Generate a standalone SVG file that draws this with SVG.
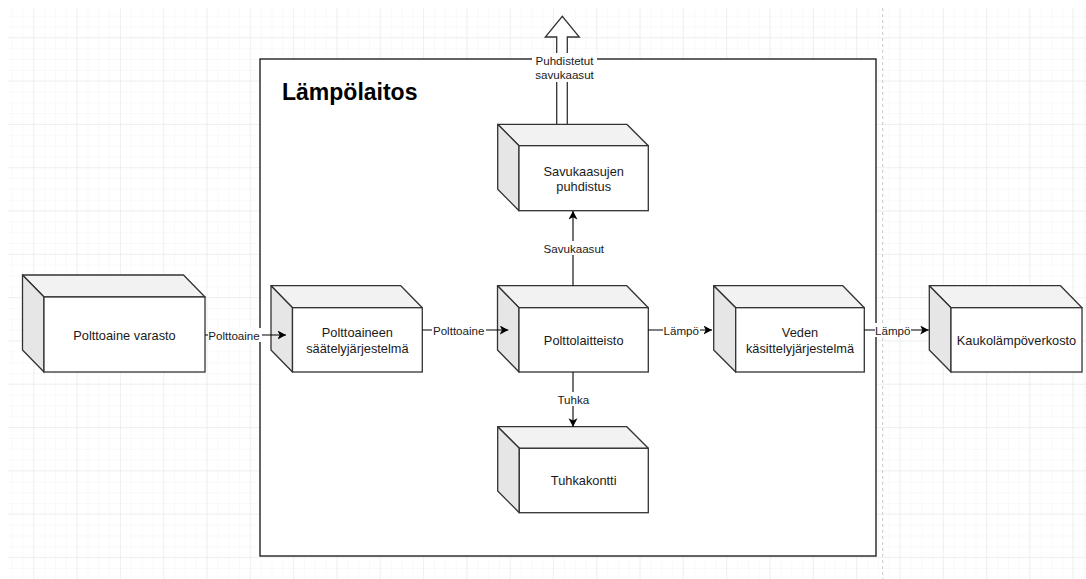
<svg xmlns="http://www.w3.org/2000/svg" width="1086" height="579" viewBox="0 0 1086 579">
<style>
.cube-front{fill:#ffffff;stroke:#333;stroke-width:1.3}
.cube-top{fill:#f2f2f2;stroke:#333;stroke-width:1.3;stroke-linejoin:round}
.cube-side{fill:#e6e6e6;stroke:#333;stroke-width:1.3;stroke-linejoin:round}
.nt{font-family:"Liberation Sans",Arial,sans-serif;font-size:12.8px;fill:#1a1a1a;text-anchor:middle;dominant-baseline:central}
.el{font-family:"Liberation Sans",Arial,sans-serif;font-size:11.6px;fill:#1a1a1a;text-anchor:middle;dominant-baseline:central}
.edge{stroke:#000;stroke-width:1.1;fill:none}
.lbg{fill:#fff}
</style>
<defs>
<pattern id="minor" x="0.8" y="4.8" width="10.83" height="10.83" patternUnits="userSpaceOnUse">
<path d="M0,0 L10.83,0 M0,0 L0,10.83" stroke="#f3f3f3" stroke-width="1" fill="none"/>
</pattern>
<pattern id="major" x="-10" y="-6" width="43.3" height="43.3" patternUnits="userSpaceOnUse">
<path d="M0,0 L43.3,0 M0,0 L0,43.3" stroke="#e6e6e6" stroke-width="1" fill="none"/>
</pattern>
<marker id="arr" markerUnits="userSpaceOnUse" markerWidth="10" markerHeight="10" refX="8.5" refY="4.5" orient="auto">
<path d="M0,0 L8.5,4.5 L0,9 L2.2,4.5 z" fill="#000"/>
</marker>
</defs>
<rect width="1086" height="579" fill="#fff"/>
<rect x="8" y="8" width="1078" height="571" fill="url(#minor)"/>
<rect x="8" y="8" width="1078" height="571" fill="url(#major)"/>
<line x1="882.7" y1="8" x2="882.7" y2="579" stroke="#c8c8c8" stroke-width="1" stroke-dasharray="3,3"/>

<g id="container">
<rect x="260" y="59" width="616" height="497" fill="#fff" stroke="#222" stroke-width="1.4"/>
<text x="282" y="99.5" font-family="'Liberation Sans',Arial,sans-serif" font-size="23px" font-weight="bold" fill="#000">Lämpölaitos</text>
</g>

<g id="node-varasto">
<path class="cube-top" d="M22.5,275 L183.5,275 L205,297 L44,297 Z"/>
<path class="cube-side" d="M22.5,275 L44,297 L44,372 L22.5,350 Z"/>
<rect class="cube-front" x="44" y="297" width="161" height="75"/>
<text class="nt" x="124.5" y="335">Polttoaine varasto</text>
</g>

<g id="node-saately">
<path class="cube-top" d="M271,285.7 L400.8,285.7 L422.3,307.7 L292.5,307.7 Z"/>
<path class="cube-side" d="M271,285.7 L292.5,307.7 L292.5,372 L271,350 Z"/>
<rect class="cube-front" x="292.5" y="307.7" width="129.8" height="64.3"/>
<text class="nt" x="357.4" y="332.7">Polttoaineen</text>
<text class="nt" x="357.4" y="348.7">säätelyjärjestelmä</text>
</g>

<g id="node-polttolaitteisto">
<path class="cube-top" d="M497.5,285.7 L626.8,285.7 L648.3,307.7 L519,307.7 Z"/>
<path class="cube-side" d="M497.5,285.7 L519,307.7 L519,372 L497.5,350 Z"/>
<rect class="cube-front" x="519" y="307.7" width="129.3" height="64.3"/>
<text class="nt" x="583.7" y="340.5">Polttolaitteisto</text>
</g>

<g id="node-veden">
<path class="cube-top" d="M713.7,285.7 L842.8,285.7 L864.3,307.7 L735.7,307.7 Z"/>
<path class="cube-side" d="M713.7,285.7 L735.7,307.7 L735.7,372 L713.7,350 Z"/>
<rect class="cube-front" x="735.7" y="307.7" width="128.6" height="64.3"/>
<text class="nt" x="800" y="332.7">Veden</text>
<text class="nt" x="800" y="348.7">käsittelyjärjestelmä</text>
</g>

<g id="node-kaukolampo">
<path class="cube-top" d="M929.3,285.7 L1060.5,285.7 L1082,307.7 L951,307.7 Z"/>
<path class="cube-side" d="M929.3,285.7 L951,307.7 L951,372 L929.3,350 Z"/>
<rect class="cube-front" x="951" y="307.7" width="131" height="64.3"/>
<text class="nt" x="1016.5" y="340.5">Kaukolämpöverkosto</text>
</g>

<g id="node-savukaasujen">
<path class="cube-top" d="M497.7,124.3 L626.8,124.3 L648.3,145.7 L519,145.7 Z"/>
<path class="cube-side" d="M497.7,124.3 L519,145.7 L519,210.7 L497.7,189.3 Z"/>
<rect class="cube-front" x="519" y="145.7" width="129.3" height="65"/>
<text class="nt" x="583.7" y="171.5">Savukaasujen</text>
<text class="nt" x="583.7" y="186">puhdistus</text>
</g>

<g id="node-tuhkakontti">
<path class="cube-top" d="M497.7,426.7 L626.8,426.7 L648.3,448.3 L519.3,448.3 Z"/>
<path class="cube-side" d="M497.7,426.7 L519.3,448.3 L519.3,512.7 L497.7,491 Z"/>
<rect class="cube-front" x="519.3" y="448.3" width="129" height="64.4"/>
<text class="nt" x="583.7" y="480">Tuhkakontti</text>
</g>

<g id="connectors">
<polygon points="556.7,124.3 556.7,37 545.3,37 562.3,16.3 579.3,37 567.3,37 567.3,124.3" fill="#fff" stroke="#333" stroke-width="1.3"/>
<line class="edge" x1="205" y1="335" x2="286" y2="335" marker-end="url(#arr)"/>
<line class="edge" x1="422.3" y1="330" x2="508.3" y2="330" marker-end="url(#arr)"/>
<line class="edge" x1="648.3" y1="330" x2="712" y2="330" marker-end="url(#arr)"/>
<line class="edge" x1="864.3" y1="330" x2="928.7" y2="330" marker-end="url(#arr)"/>
<line class="edge" x1="573" y1="285.7" x2="573" y2="211" marker-end="url(#arr)"/>
<line class="edge" x1="573" y1="372" x2="573" y2="426.7" marker-end="url(#arr)"/>
<rect class="lbg" x="208" y="328" width="54" height="14"/>
<text class="el" x="234" y="335">Polttoaine</text>
<rect class="lbg" x="432" y="323" width="54" height="14"/>
<text class="el" x="458.7" y="330">Polttoaine</text>
<rect class="lbg" x="663" y="323" width="37" height="14"/>
<text class="el" x="681.3" y="330">Lämpö</text>
<rect class="lbg" x="875" y="323" width="36" height="14"/>
<text class="el" x="892.8" y="330">Lämpö</text>
<rect class="lbg" x="543" y="241" width="61" height="14"/>
<text class="el" x="573.8" y="248.3">Savukaasut</text>
<rect class="lbg" x="556" y="392" width="35" height="14"/>
<text class="el" x="573.3" y="399.3">Tuhka</text>
<rect class="lbg" x="532" y="53" width="65" height="29"/>
<text class="el" x="564.5" y="60.7">Puhdistetut</text>
<text class="el" x="564.5" y="74.5">savukaasut</text>
</g>
</svg>
